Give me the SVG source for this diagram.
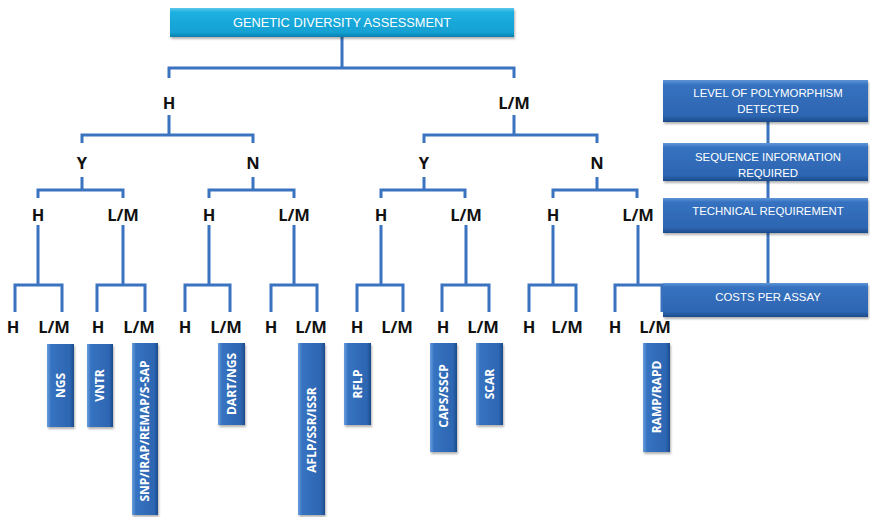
<svg xmlns="http://www.w3.org/2000/svg" width="870" height="517" viewBox="0 0 870 517">
<defs>
<linearGradient id="gTop" x1="0" y1="0" x2="0" y2="1">
<stop offset="0" stop-color="#5cc8ec"/>
<stop offset="0.15" stop-color="#1fb0e0"/>
<stop offset="0.85" stop-color="#12a0d2"/>
<stop offset="1" stop-color="#0c7eab"/>
</linearGradient>
<linearGradient id="gH" x1="0" y1="0" x2="0" y2="1">
<stop offset="0" stop-color="#5f95d8"/>
<stop offset="0.12" stop-color="#3572c0"/>
<stop offset="0.85" stop-color="#2d66b2"/>
<stop offset="1" stop-color="#1d4a8a"/>
</linearGradient>
<linearGradient id="gV" x1="0" y1="0" x2="1" y2="0">
<stop offset="0" stop-color="#6a9edd"/>
<stop offset="0.15" stop-color="#3673c1"/>
<stop offset="0.85" stop-color="#2d66b2"/>
<stop offset="1" stop-color="#1d4a8a"/>
</linearGradient>
<filter id="sh" x="-20%" y="-20%" width="140%" height="140%">
<feDropShadow dx="1" dy="2" stdDeviation="1.2" flood-color="#000" flood-opacity="0.3"/>
</filter>
</defs>
<style>
.c{fill:none;stroke:#3a73c0;stroke-width:3;stroke-linejoin:miter}
.lb{font-family:"Open Sans","Liberation Sans",sans-serif;font-weight:bold;font-size:16.5px;fill:#111;text-anchor:middle}
.top{fill:url(#gTop);filter:url(#sh)}
.hb{fill:url(#gH);filter:url(#sh)}
.vb{fill:url(#gV);filter:url(#sh)}
.tt{font-family:"Liberation Sans",sans-serif;font-size:12.8px;fill:#fff;text-anchor:middle}
.lt{font-family:"Liberation Sans",sans-serif;font-size:11.4px;fill:#fff;text-anchor:middle}
.vt{font-family:"Open Sans","Liberation Sans",sans-serif;font-weight:bold;font-size:12px;fill:#fff;text-anchor:middle}
</style>
<rect width="870" height="517" fill="#fff"/>
<g id="connectors">
<path class="c" d="M342 37V68M169 78V68H514V78"/>
<path class="c" d="M169 115V135M82 143V135H253V143"/>
<path class="c" d="M514 115V135M424 143V135H597V143"/>
<path class="c" d="M82 177V190M38 198V190H123V198"/>
<path class="c" d="M253 177V190M209 198V190H294V198"/>
<path class="c" d="M424 177V190M381 198V190H465V198"/>
<path class="c" d="M597 177V190M553 198V190H637V198"/>
<path class="c" d="M38 225V285M15 312V285H62V312"/>
<path class="c" d="M123 225V285M97 312V285H145V312"/>
<path class="c" d="M209 225V285M185 312V285H230V312"/>
<path class="c" d="M294 225V285M271 312V285H317V312"/>
<path class="c" d="M381 225V285M357 312V285H403V312"/>
<path class="c" d="M466 225V285M442 312V285H489V312"/>
<path class="c" d="M553 225V285M529 312V285H576V312"/>
<path class="c" d="M638 225V285M615 312V285H662V312"/>
<path class="c" d="M768 122V143M768 181V198M768 233V283"/>
</g>
<g id="root"><rect class="top" x="170" y="8" width="344" height="29"/><text class="tt" x="342" y="27">GENETIC DIVERSITY ASSESSMENT</text></g>
<g id="l1-H"><text class="lb" x="169" y="109">H</text></g>
<g id="l1-LM"><text class="lb" x="514" y="109">L/M</text></g>
<g id="l2-Y1"><text class="lb" x="82" y="169">Y</text></g>
<g id="l2-N1"><text class="lb" x="253" y="169">N</text></g>
<g id="l2-Y2"><text class="lb" x="424" y="169">Y</text></g>
<g id="l2-N2"><text class="lb" x="597" y="169">N</text></g>
<g id="l3-1"><text class="lb" x="38" y="221">H</text></g>
<g id="l3-2"><text class="lb" x="123" y="221">L/M</text></g>
<g id="l3-3"><text class="lb" x="209" y="221">H</text></g>
<g id="l3-4"><text class="lb" x="294" y="221">L/M</text></g>
<g id="l3-5"><text class="lb" x="381" y="221">H</text></g>
<g id="l3-6"><text class="lb" x="466" y="221">L/M</text></g>
<g id="l3-7"><text class="lb" x="553" y="221">H</text></g>
<g id="l3-8"><text class="lb" x="638" y="221">L/M</text></g>
<g id="l4-1"><text class="lb" x="13" y="333">H</text></g>
<g id="l4-2"><text class="lb" x="54" y="333">L/M</text></g>
<g id="l4-3"><text class="lb" x="98" y="333">H</text></g>
<g id="l4-4"><text class="lb" x="139" y="333">L/M</text></g>
<g id="l4-5"><text class="lb" x="185" y="333">H</text></g>
<g id="l4-6"><text class="lb" x="226" y="333">L/M</text></g>
<g id="l4-7"><text class="lb" x="271" y="333">H</text></g>
<g id="l4-8"><text class="lb" x="311" y="333">L/M</text></g>
<g id="l4-9"><text class="lb" x="357" y="333">H</text></g>
<g id="l4-10"><text class="lb" x="397" y="333">L/M</text></g>
<g id="l4-11"><text class="lb" x="443" y="333">H</text></g>
<g id="l4-12"><text class="lb" x="483" y="333">L/M</text></g>
<g id="l4-13"><text class="lb" x="529" y="333">H</text></g>
<g id="l4-14"><text class="lb" x="567" y="333">L/M</text></g>
<g id="l4-15"><text class="lb" x="615" y="333">H</text></g>
<g id="l4-16"><text class="lb" x="655" y="333">L/M</text></g>
<g id="m-ngs"><rect class="vb" x="47" y="344" width="27" height="83"/><text class="vt" transform="translate(64.5 385.5) rotate(-90)">NGS</text></g>
<g id="m-vntr"><rect class="vb" x="87" y="344" width="26" height="83"/><text class="vt" transform="translate(104 385.5) rotate(-90)">VNTR</text></g>
<g id="m-snp"><rect class="vb" x="132" y="343" width="26" height="172"/><text class="vt" transform="translate(149 431) rotate(-90)">SNP/IRAP/REMAP/S-SAP</text></g>
<g id="m-dart"><rect class="vb" x="218" y="343" width="27" height="82"/><text class="vt" transform="translate(235.5 384) rotate(-90)">DART/NGS</text></g>
<g id="m-aflp"><rect class="vb" x="298" y="343" width="27" height="172"/><text class="vt" transform="translate(315.5 430) rotate(-90)">AFLP/SSR/ISSR</text></g>
<g id="m-rflp"><rect class="vb" x="344" y="343" width="27" height="82"/><text class="vt" transform="translate(361.5 384) rotate(-90)">RFLP</text></g>
<g id="m-caps"><rect class="vb" x="430" y="343" width="27" height="109"/><text class="vt" transform="translate(447.5 396) rotate(-90)">CAPS/SSCP</text></g>
<g id="m-scar"><rect class="vb" x="476" y="343" width="27" height="82"/><text class="vt" transform="translate(493.5 384) rotate(-90)">SCAR</text></g>
<g id="m-ramp"><rect class="vb" x="643" y="343" width="27" height="109"/><text class="vt" transform="translate(660.5 397) rotate(-90)">RAMP/RAPD</text></g>
<g id="leg-1"><rect class="hb" x="663" y="80" width="205" height="42"/><text class="lt" x="768" y="97">LEVEL OF POLYMORPHISM</text><text class="lt" x="768" y="113">DETECTED</text></g>
<g id="leg-2"><rect class="hb" x="663" y="143" width="205" height="38"/><text class="lt" x="768" y="161">SEQUENCE INFORMATION</text><text class="lt" x="768" y="177">REQUIRED</text></g>
<g id="leg-3"><rect class="hb" x="663" y="198" width="205" height="35"/><text class="lt" x="768" y="215">TECHNICAL REQUIREMENT</text></g>
<g id="leg-4"><rect class="hb" x="663" y="283" width="205" height="34"/><text class="lt" x="768" y="301">COSTS PER ASSAY</text></g>
</svg>
